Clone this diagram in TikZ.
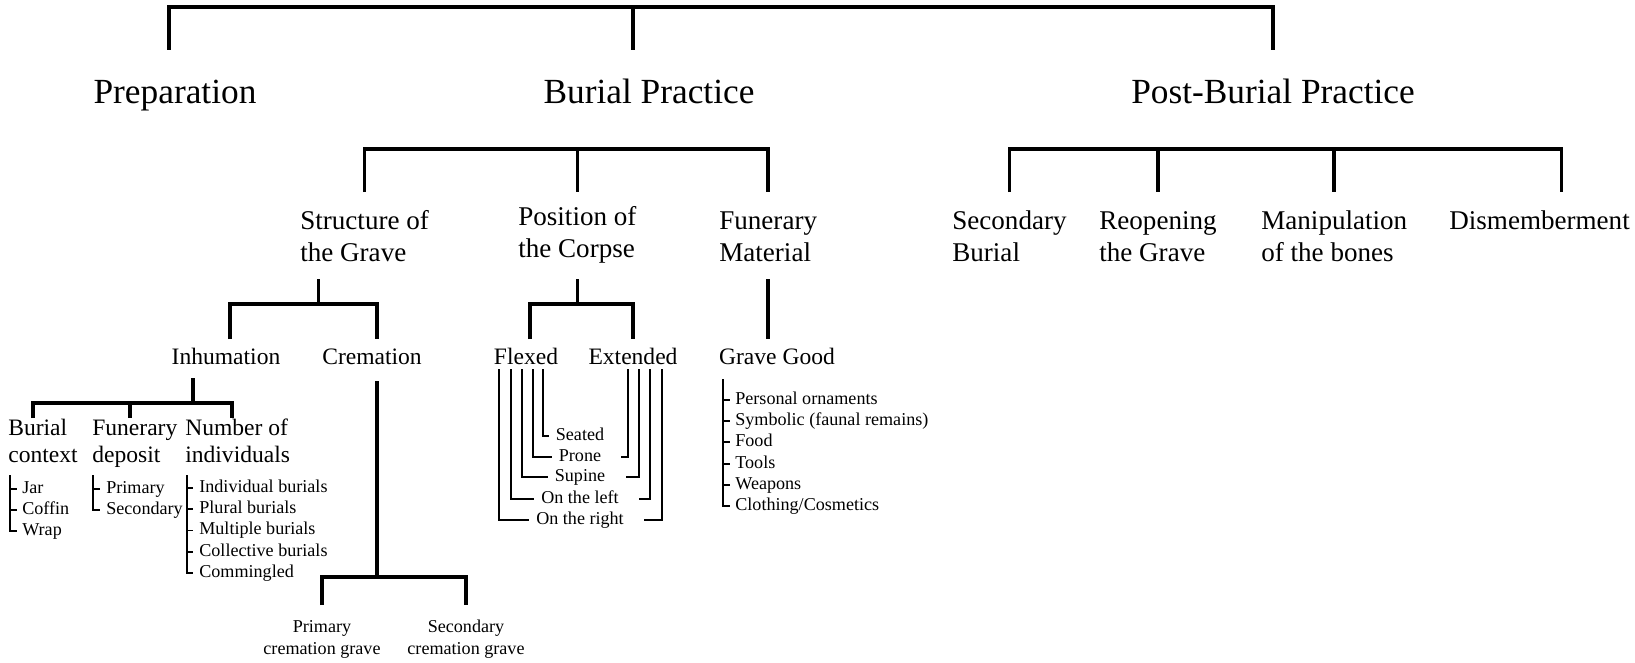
\documentclass[tikz,border=0pt]{standalone}
\usepackage{fontspec}
\setmainfont{Liberation Serif}
\usetikzlibrary{calc}

\tikzset{
  br/.style={line width=2.1pt},
  tk/.style={line width=1.1pt},
  lvlone/.style={font=\fontsize{20.1}{24}\selectfont, inner sep=0pt, anchor=base},
  lvltwo/.style={font=\fontsize{15.4}{18.2}\selectfont, inner sep=0pt, align=left, anchor=base west},
  lvlthree/.style={font=\fontsize{13.4}{14.8}\selectfont, inner sep=0pt, align=left, anchor=base west},
  leaf/.style={font=\fontsize{10.3}{12.3}\selectfont, inner sep=0pt, anchor=west, text height=1.5ex, text depth=0.4ex},
  leafc/.style={font=\fontsize{10.3}{12.3}\selectfont, inner sep=0pt, align=center, anchor=base},
}

\begin{document}
\begin{tikzpicture}[x=0.2mm, y=-0.2mm]
\useasboundingbox (0,0) rectangle (1635,662);

% top level
\node[lvlone] (prep) at (175,104) {Preparation};
\node[lvlone] (burial) at (649,104) {Burial Practice};
\node[lvlone] (post) at (1273,104) {Post-Burial Practice};
\coordinate (top) at (0,7);
\coordinate (topEnd) at (0,50);
\draw[br] ($(prep |- topEnd)+(-6,0)$) |- (post |- top) -- (post |- topEnd);
\draw[br] ($(burial |- top)+(-16,0)$) -- ($(burial |- topEnd)+(-16,0)$);

% burial practice / post-burial practice
\coordinate (bar) at (0,149);
\coordinate (barEnd) at (0,192);
\node[lvltwo] (struct) at (300,261) {Structure of\\the Grave};
\node[lvltwo] (posit) at (518,257) {Position of\\the Corpse};
\node[lvltwo] (funer) at (719,261) {Funerary\\Material};
\draw[br] (struct |- barEnd) |- (funer |- bar) -- (funer |- barEnd);
\draw[br] (posit |- bar) -- (posit |- barEnd);

\node[lvltwo] (secb) at (952,261) {Secondary\\Burial};
\node[lvltwo] (reop) at (1099,261) {Reopening\\the Grave};
\node[lvltwo] (manip) at (1261,261) {Manipulation\\of the bones};
\node[lvltwo] (dism) at (1449,229) {Dismemberment};
\draw[br] (secb |- barEnd) |- ($(dism |- bar)+(22,0)$) -- ($(dism |- barEnd)+(22,0)$);
\draw[br] (reop |- bar) -- (reop |- barEnd);
\draw[br] (manip |- bar) -- (manip |- barEnd);

% third level
\coordinate (lTop) at (0,279);
\coordinate (lBar) at (0,304);
\coordinate (lEnd) at (0,339);
\node[lvlthree, anchor=base] (inh) at (226,364) {Inhumation};
\node[lvlthree, anchor=base] (crem) at (372,364) {Cremation};
\node[lvlthree, anchor=base] (flexed) at (526,364) {Flexed};
\node[lvlthree, anchor=base] (extended) at (633,364) {Extended};
\node[lvlthree, anchor=base] (good) at (777,364) {Grave Good};
\draw[br] ($(struct |- lTop)+(-46,0)$) -- ($(struct |- lBar)+(-46,0)$);
\draw[br] ($(inh |- lEnd)+(4,0)$) |- ($(crem |- lBar)+(5,0)$) -- ($(crem |- lEnd)+(5,0)$);
\draw[br] (posit |- lTop) -- (posit |- lBar);
\draw[br] ($(flexed |- lEnd)+(4,0)$) |- (extended |- lBar) -- (extended |- lEnd);
\draw[br] (funer |- lTop) -- (funer |- lEnd);

% inhumation
\coordinate (iTop) at (0,378);
\coordinate (iBar) at (0,403);
\coordinate (iEnd) at (0,418);
\node[lvlthree] (bctx) at (8,462) {Burial\\context};
\node[lvlthree] (fdep) at (92,462) {Funerary\\deposit};
\node[lvlthree] (nind) at (185,462) {Number of\\individuals};
\draw[br] ($(inh |- iTop)+(-33,0)$) -- ($(inh |- iBar)+(-33,0)$);
\draw[br] ($(bctx |- iEnd)+(-10,0)$) |- ($(nind |- iBar)+(-6,0)$) -- ($(nind |- iEnd)+(-6,0)$);
\draw[br] ($(fdep |- iBar)+(-5,0)$) -- ($(fdep |- iEnd)+(-5,0)$);

% lists
\foreach \t [count=\i] in {Jar,Coffin,Wrap}
  \node[leaf] (bc\i) at (22,468+21*\i) {\t};
\coordinate (bcT) at (10,475);
\draw[tk] (bcT) |- ($(bc3.west)+(-5,0)$);
\foreach \i in {1,2} \draw[tk] (bcT |- bc\i.west) -- ++(7,0);

\foreach \t [count=\i] in {Primary,Secondary}
  \node[leaf] (fd\i) at (106,468+21*\i) {\t};
\coordinate (fdT) at (93,475);
\draw[tk] (fdT) |- ($(fd2.west)+(-6,0)$);
\draw[tk] (fdT |- fd1.west) -- ++(7,0);

\foreach \t [count=\i] in {Individual burials,Plural burials,Multiple burials,Collective burials,Commingled}
  \node[leaf] (ni\i) at (199,466.75+21.25*\i) {\t};
\coordinate (niT) at (187,475);
\draw[tk] (niT) |- ($(ni5.west)+(-6,0)$);
\foreach \i in {1,...,4} \draw[tk] (niT |- ni\i.west) -- ++(6,0);

\foreach \t [count=\i] in {{Personal ornaments},{Symbolic (faunal remains)},{Food},{Tools},{Weapons},{Clothing/Cosmetics}}
  \node[leaf] (gg\i) at (735,378.8+21.2*\i) {\t};
\coordinate (ggT) at (723,379);
\draw[tk] (ggT) |- ($(gg6.west)+(-5,0)$);
\foreach \i in {1,...,5} \draw[tk] (ggT |- gg\i.west) -- ++(7,0);

% position of the corpse
\node[leaf, anchor=center] (sea) at (580,436) {Seated};
\node[leaf, anchor=center] (prn) at (580,457) {Prone};
\node[leaf, anchor=center] (sup) at (580,477) {Supine};
\node[leaf, anchor=center] (lft) at (580,499) {On the left};
\node[leaf, anchor=center] (rgt) at (580,520) {On the right};
\foreach \dx/\n in {17/sea, 7/prn, -4/sup, -15/lft, -27/rgt}
  \draw[tk] ($(flexed.base)+(\dx,5)$) |- ($(\n.west)+(-7,0)$);
\foreach \dx/\n in {-5/prn, 6/sup, 17/lft, 29/rgt}
  \draw[tk] ($(extended.base)+(\dx,5)$) |- ($(\n.east)+(20,0)$);

% cremation
\coordinate (cBar) at (0,577);
\coordinate (cEnd) at (0,605);
\node[leafc] (pcg) at (322,654) {Primary\\cremation grave};
\node[leafc] (scg) at (466,654) {Secondary\\cremation grave};
\draw[br] ($(crem.base)+(5,17)$) -- ($(crem |- cBar)+(5,0)$);
\draw[br] (pcg |- cEnd) |- (scg |- cBar) -- (scg |- cEnd);
\end{tikzpicture}
\end{document}
